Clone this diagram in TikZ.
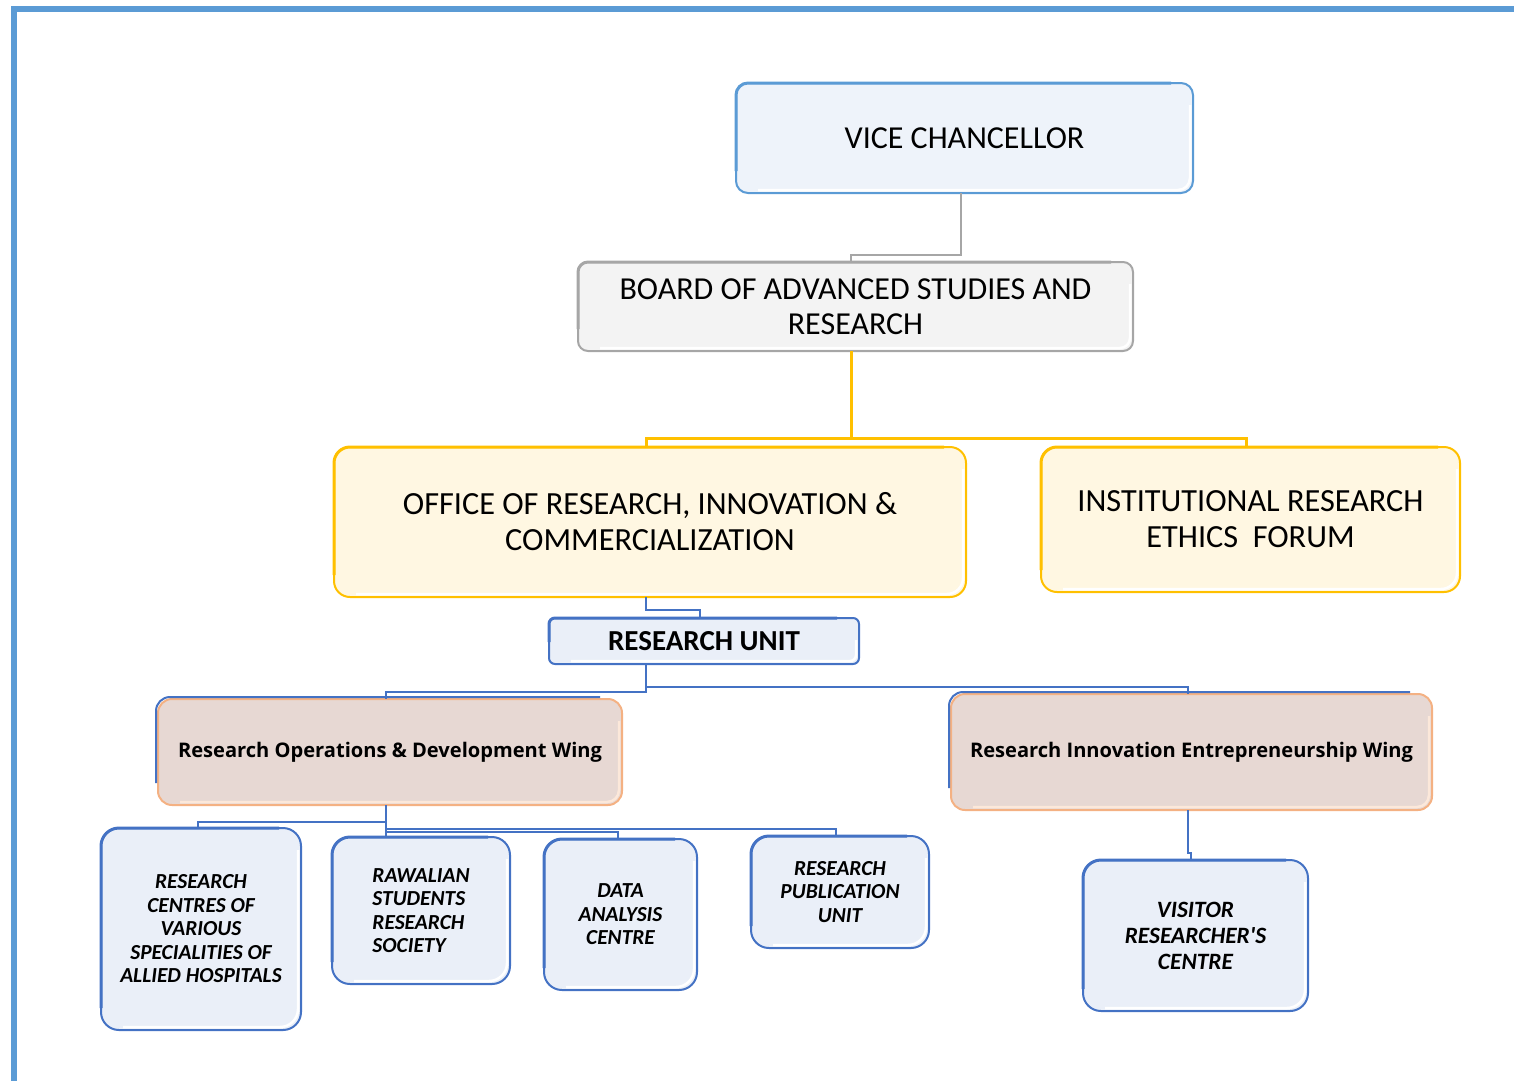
\documentclass[tikz,border=0pt]{standalone}
\usepackage{fontspec}
\setmainfont{Carlito}
\newfontfamily\osans{Open Sans}
\definecolor{pageblue}{HTML}{5B9BD5}
\definecolor{vcfill}{HTML}{EEF3FA}
\definecolor{bgray}{HTML}{A6A6A6}
\definecolor{bfill}{HTML}{F3F3F3}
\definecolor{gold}{HTML}{FFC000}
\definecolor{gfill}{HTML}{FFF7E2}
\definecolor{ublue}{HTML}{4472C4}
\definecolor{ufill}{HTML}{EAEFF8}
\definecolor{wfill}{HTML}{E7D8D3}
\definecolor{worange}{HTML}{F4B183}
\newcommand\bevel[3]{%
  \draw[#2, line width=3pt, rounded corners=#3] ([yshift=22pt]#1.south west) -- (#1.north west) -- ([xshift=-22pt]#1.north east);
  \draw[white, line width=2.5pt, rounded corners=#3] ([xshift=-3pt,yshift=-22pt]#1.north east) -- ([xshift=-3pt,yshift=3pt]#1.south east) -- ([xshift=22pt,yshift=3pt]#1.south west);
}
\newcommand\wingbevel[1]{%
  \draw[ublue, line width=2pt, rounded corners=14pt] ([xshift=-2pt,yshift=22pt]#1.south west) -- ([xshift=-2pt,yshift=2pt]#1.north west) -- ([xshift=-22pt,yshift=2pt]#1.north east);
  \draw[white!70!worange, line width=2.5pt, rounded corners=12pt] ([xshift=-3pt,yshift=-22pt]#1.north east) -- ([xshift=-3pt,yshift=3pt]#1.south east) -- ([xshift=22pt,yshift=3pt]#1.south west);
}
\tikzset{
  box/.style={draw, line width=2pt, inner sep=0pt, outer sep=0pt, align=center},
  vcbox/.style={box, draw=pageblue, fill=vcfill, rounded corners=12pt, font=\fontsize{32}{35.5}\selectfont},
  boardbox/.style={box, draw=bgray, fill=bfill, rounded corners=10pt, font=\fontsize{32}{35.5}\selectfont},
  goldbox/.style={box, draw=gold, fill=gfill, rounded corners=16pt, font=\fontsize{32.3}{36}\selectfont},
  unitbox/.style={box, draw=ublue, fill=ufill, rounded corners=6pt, font=\fontsize{29}{30}\selectfont\bfseries},
  wingbox/.style={box, draw=worange, fill=wfill, rounded corners=14pt, font=\osans\fontsize{20.1}{22}\selectfont\bfseries},
  smallbox/.style={box, draw=ublue, fill=ufill, rounded corners=18pt, font=\fontsize{21.4}{23.5}\selectfont\bfseries\itshape},
  graylink/.style={draw=bgray, line width=2pt},
  goldlink/.style={draw=gold, line width=3pt},
  bluelink/.style={draw=ublue, line width=2.5pt},
}
\begin{document}
\begin{tikzpicture}[x=1pt,y=-1pt]
\useasboundingbox (0,0) rectangle (1514,1080);
\draw[pageblue, line width=6pt] (14,1083) -- (14,9) -- (1517,9);

% nodes
\node[vcbox, minimum width=457pt, minimum height=110pt] (vc) at (964.5,138) {VICE CHANCELLOR};
\node[boardbox, minimum width=555pt, minimum height=89pt] (board) at (855.5,306.5) {BOARD OF ADVANCED STUDIES AND\\RESEARCH};
\node[goldbox, minimum width=632pt, minimum height=150pt] (office) at (650,522) {OFFICE OF RESEARCH, INNOVATION \&\\COMMERCIALIZATION};
\node[goldbox, minimum width=419pt, minimum height=145pt] (iref) at (1250.5,519.5) {INSTITUTIONAL RESEARCH\\ETHICS~~FORUM};
\node[unitbox, minimum width=310pt, minimum height=46pt] (ru) at (704,641) {RESEARCH UNIT};
\node[wingbox, minimum width=464pt, minimum height=106pt] (rod) at (390,752) {Research Operations \& Development Wing};
\node[wingbox, minimum width=481pt, minimum height=116pt] (rie) at (1191.5,752) {Research Innovation Entrepreneurship Wing};
\node[smallbox, minimum width=200pt, minimum height=202pt] (b1) at (201,929) {RESEARCH\\CENTRES OF\\VARIOUS\\SPECIALITIES OF\\ALLIED HOSPITALS};
\node[smallbox, minimum width=178pt, minimum height=147pt, align=left] (b2) at (421,910.5) {RAWALIAN\\STUDENTS\\RESEARCH\\SOCIETY};
\node[smallbox, minimum width=153pt, minimum height=151pt] (b3) at (620.5,914.5) {DATA\\ANALYSIS\\CENTRE};
\node[smallbox, minimum width=178pt, minimum height=112pt] (b4) at (840,892) {RESEARCH\\PUBLICATION\\UNIT};
\node[smallbox, minimum width=225pt, minimum height=151pt, font=\fontsize{23.4}{26}\selectfont\bfseries\itshape] (vrc) at (1195.5,935.5) {VISITOR\\RESEARCHER\textquotesingle S\\CENTRE};

% bevels
\bevel{vc}{pageblue}{12pt}
\bevel{board}{bgray}{10pt}
\bevel{office}{gold}{16pt}
\bevel{iref}{gold}{16pt}
\bevel{ru}{ublue}{6pt}
\bevel{b1}{ublue}{18pt}
\bevel{b2}{ublue}{18pt}
\bevel{b3}{ublue}{18pt}
\bevel{b4}{ublue}{18pt}
\bevel{vrc}{ublue}{18pt}
\wingbevel{rod}
\wingbevel{rie}

% connectors
\draw[graylink] ([xshift=-3.5pt]vc.south) -- ++(0,62) -| ([xshift=-4.5pt]board.north);
\draw[goldlink] ([xshift=-4.5pt]board.south) -- ++(0,87);
\draw[goldlink] ([xshift=-4pt]office.north) -- ++(0,-9) -| ([xshift=-4.5pt]iref.north);
\draw[bluelink] ([xshift=-4pt]office.south) -- ++(0,13) -| ([xshift=-4pt]ru.north);
\draw[bluelink] ([xshift=-58pt]ru.south) -- ++(0,28) -| ([xshift=-4pt]rod.north);
\draw[bluelink] ([xshift=-58pt]ru.south) -- ++(0,23) -| ([xshift=-3.5pt]rie.north);
\draw[bluelink] ([xshift=-4pt]rod.south) -- ++(0,17) -| ([xshift=-3pt]b1.north);
\draw[bluelink] ([xshift=-4pt]rod.south) -- ([xshift=-35pt]b2.north);
\draw[bluelink] ([xshift=-4pt]rod.south) -- ++(0,27) -| ([xshift=-2.5pt]b3.north);
\draw[bluelink] ([xshift=-4pt]rod.south) -- ++(0,24) -| ([xshift=-4pt]b4.north);
\draw[bluelink] ([xshift=-3.5pt]rie.south) -- ++(0,43) -| ([xshift=-4.5pt]vrc.north);
\end{tikzpicture}
\end{document}
